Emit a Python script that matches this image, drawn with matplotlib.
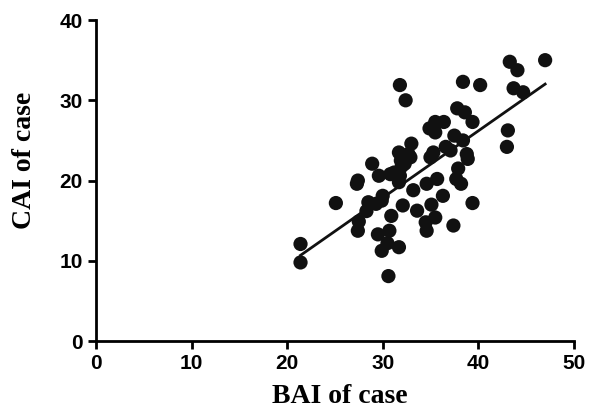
import numpy as np
import matplotlib
matplotlib.use("Agg")
import matplotlib.pyplot as plt

# BAI (x) and CAI (y) of each case
bai = [21.4, 21.4, 25.1, 27.4, 27.3, 27.5, 27.4, 28.3, 28.5, 28.9,
       29.6, 29.5, 29.9, 29.9, 30.0, 30.5, 30.7, 30.6, 30.8, 30.9,
       31.7, 31.8, 31.7, 31.7, 31.8, 31.9, 32.1, 32.4, 32.3, 32.7,
       33.0, 32.9, 33.2, 33.6, 34.5, 34.6, 34.6, 35.0, 34.9, 35.1,
       35.3, 35.5, 35.5, 35.7, 35.5, 36.3, 36.4, 36.6, 37.1, 37.4,
       37.5, 37.7, 37.8, 37.9, 38.2, 38.4, 38.6, 38.4, 38.8, 38.9,
       39.4, 39.4, 40.2, 43.1, 43.0, 43.3, 44.1, 43.7, 44.7, 47.0,
       29.3, 31.2, 32.0]
cai = [12.1, 9.8, 17.2, 20.0, 19.6, 14.9, 13.75, 16.2, 17.3, 22.1,
       20.6, 13.3, 17.5, 11.25, 18.1, 12.2, 13.75, 8.1, 20.8, 15.6,
       11.7, 31.9, 23.5, 19.8, 20.6, 22.5, 16.9, 30.0, 22.1, 23.3,
       24.6, 22.9, 18.8, 16.25, 14.8, 13.75, 19.6, 22.9, 26.5, 17.0,
       23.5, 27.3, 26.0, 20.2, 15.4, 18.1, 27.3, 24.2, 23.75, 14.4,
       25.6, 20.2, 29.0, 21.5, 19.6, 32.3, 28.5, 25.0, 23.3, 22.7,
       27.3, 17.2, 31.9, 26.25, 24.2, 34.8, 33.75, 31.5, 31.0, 35.0,
       17.1, 21.0, 21.8]

x_ticks = [0, 10, 20, 30, 40, 50]
y_ticks = [0, 10, 20, 30, 40]

fig = plt.figure(figsize=(6.04, 4.09), dpi=100)
ax = fig.add_axes([0.159, 0.166, 0.791, 0.785])

ax.scatter(bai, cai, s=105, color="#111111", edgecolors="none", zorder=3)

# least squares line over the data range
slope, intercept = np.polyfit(bai, cai, 1)
xs = np.array([min(bai), max(bai)])
ax.plot(xs, slope * xs + intercept, color="#111111", lw=2, zorder=2)

ax.set_xlim(0, 50)
ax.set_ylim(0, 40)
ax.set_xticks(x_ticks)
ax.set_yticks(y_ticks)
for side in ["top", "right"]:
    ax.spines[side].set_visible(False)
for side in ["left", "bottom"]:
    ax.spines[side].set_linewidth(2)
ax.tick_params(direction="out", length=5.5, width=2, pad=4)
for lab in ax.get_xticklabels() + ax.get_yticklabels():
    lab.set_fontfamily("Liberation Sans")
    lab.set_fontweight("bold")
    lab.set_fontsize(15)

ax.set_xlabel("BAI of case", fontfamily="Liberation Serif", fontweight="bold",
              fontsize=20)
ax.set_ylabel("CAI of case", fontfamily="Liberation Serif", fontweight="bold",
              fontsize=20)
ax.xaxis.set_label_coords(0.51, -0.174)
ax.yaxis.set_label_coords(-0.149, 0.564)
ax.xaxis.label.set_va("center")
ax.yaxis.label.set_va("center")

fig.savefig("out.png", dpi=100)
